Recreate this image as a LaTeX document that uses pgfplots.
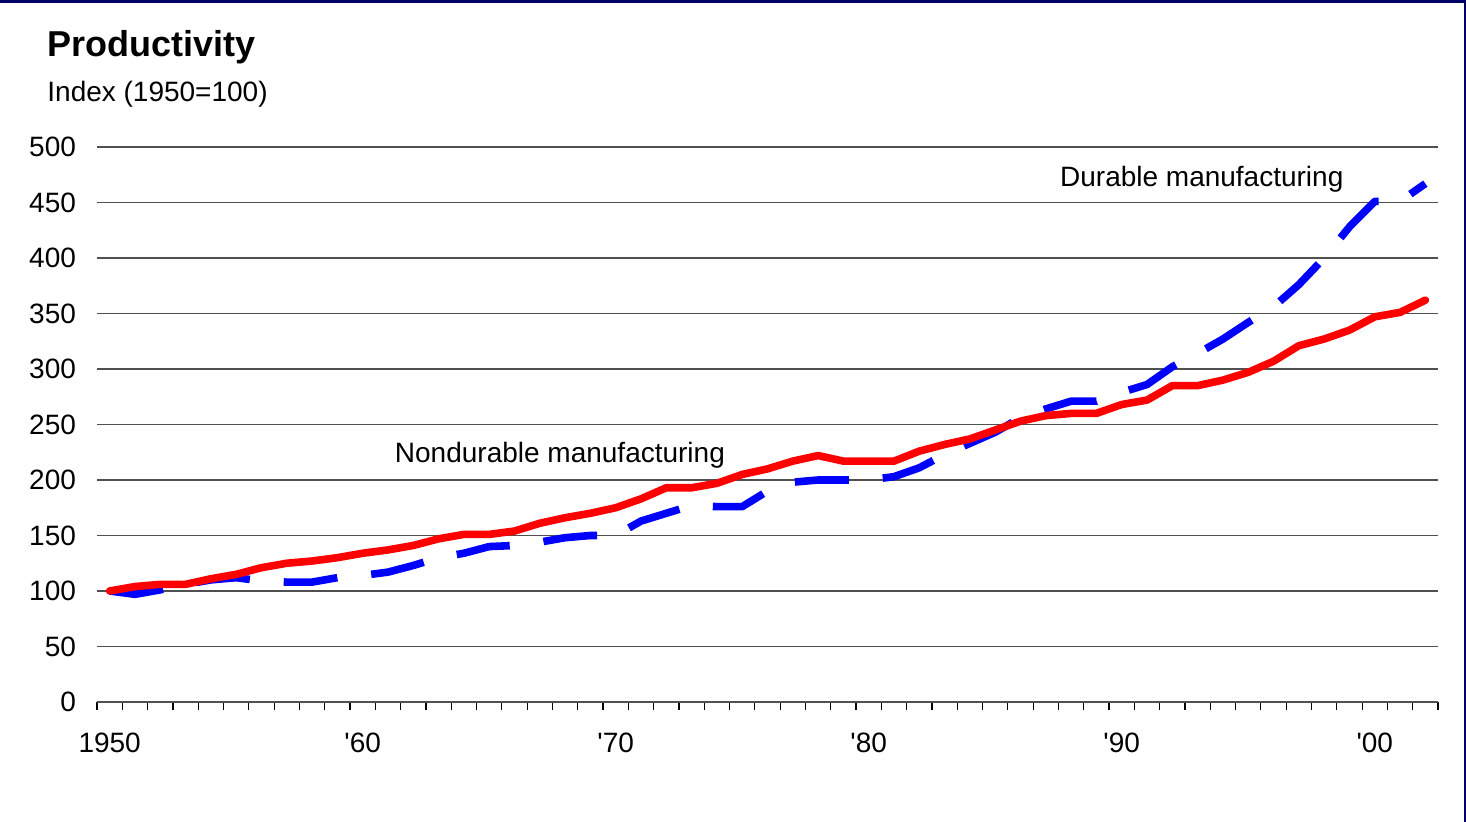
\documentclass[border=0pt]{standalone}
\usepackage{pgfplots}
\pgfplotsset{compat=1.18}
\usepackage{pgfplotstable}
\usepackage{fontspec}
\setmainfont{Liberation Sans}
\definecolor{navyframe}{HTML}{000066}
\definecolor{gridgray}{HTML}{505050}

% productivity index, 1950=100
\pgfplotstableread{
year val
1950 100
1951 104
1952 106
1953 106
1954 111
1955 115
1956 121
1957 125
1958 127
1959 130
1960 134
1961 137
1962 141
1963 147
1964 151
1965 151
1966 154
1967 161
1968 166
1969 170
1970 175
1971 183
1972 193
1973 193
1974 197
1975 205
1976 210
1977 217
1978 222
1979 217
1980 217
1981 217
1982 226
1983 232
1984 237
1985 245
1986 253
1987 258
1988 260
1989 260
1990 268
1991 272
1992 285
1993 285
1994 290
1995 297
1996 307
1997 321
1998 327
1999 335
2000 347
2001 351
2002 362
}\nondurable

\pgfplotstableread{
year val
1950 100
1951 97
1952 101
1953 106
1954 110
1955 112
1956 109
1957 108
1958 108
1959 112
1960 114
1961 117
1962 123
1963 130
1964 134
1965 140
1966 141
1967 144
1968 148
1969 150
1970 150
1971 163
1972 170
1973 177
1974 176
1975 176
1976 190
1977 198
1978 200
1979 200
1980 200
1981 203
1982 211
1983 223
1984 233
1985 243
1986 256
1987 264
1988 271
1989 271
1990 279
1991 286
1992 302
1993 314
1994 327
1995 342
1996 356
1997 376
1998 400
1999 428
2000 451
2001 451
2002 467
}\durable

\begin{document}
\begin{tikzpicture}
\path[use as bounding box] (-48.5pt,-60pt) rectangle (684.5pt,351pt);
\begin{axis}[
    at={(0,0)}, anchor=south west,
    scale only axis,
    width=670.5pt, height=277.5pt,
    xmin=1949.5, xmax=2002.5,
    ymin=0, ymax=500,
    ytick={0,50,...,500},
    xtick={1950,1960,1970,1980,1990,2000},
    xticklabels={1950,\textquotesingle60,\textquotesingle70,\textquotesingle80,\textquotesingle90,\textquotesingle00},
    minor xtick={1949.5,1950.5,...,2002.5},
    major tick length=0pt,
    minor tick length=4pt,
    tick align=outside,
    tick style={black, line width=0.6pt},
    axis x line*=bottom,
    axis y line*=left,
    x axis line style={draw=gridgray, line width=0.7pt},
    y axis line style={draw=none},
    ymajorgrids,
    major grid style={gridgray, line width=0.7pt},
    font=\fontsize{14}{17}\selectfont,
    /pgf/number format/assume math mode=true,
    yticklabel style={anchor=east, xshift=-7pt},
    xticklabel style={anchor=north, yshift=-12pt},
    clip=false,
]
\addplot[blue, line width=3.8pt, dash pattern=on 27pt off 17pt, line join=round] table[x=year, y=val] {\durable};
\addplot[red, line width=3.8pt, line cap=round, line join=round] table[x=year, y=val] {\nondurable};
\node[anchor=base west, inner sep=0pt] at (axis cs:1961.26,216) {Nondurable manufacturing};
\node[anchor=base west, inner sep=0pt] at (axis cs:1987.55,464) {Durable manufacturing};
\end{axis}
\node[anchor=base west, inner sep=0pt, font=\bfseries\fontsize{18}{21}\selectfont] at (-25pt,322.5pt) {Productivity};
\node[anchor=base west, inner sep=0pt, font=\fontsize{14}{17}\selectfont] at (-25pt,300pt) {Index (1950=100)};
\fill[navyframe] (-48.5pt,349.5pt) rectangle (684.5pt,351pt);
\fill[navyframe] (683.3pt,-60pt) rectangle (684.5pt,351pt);
\end{tikzpicture}
\end{document}
